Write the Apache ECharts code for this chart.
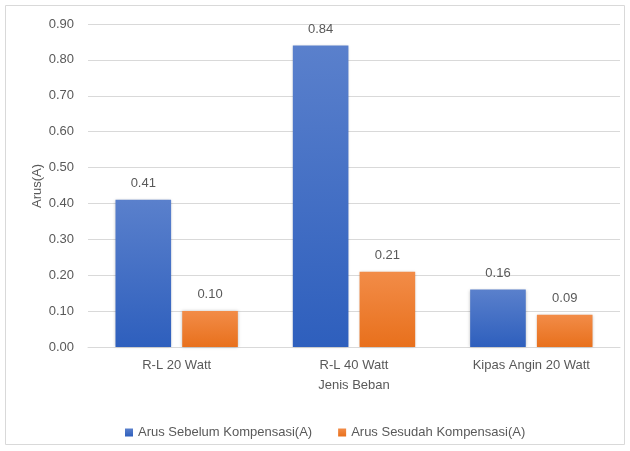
<!DOCTYPE html>
<html>
<head>
<meta charset="UTF-8">
<title>Arus</title>
<script type="text/javascript" src="https://cdn.jsdelivr.net/npm/echarts@6/dist/echarts.min.js"></script>
<style>
  html, body { margin: 0; padding: 0; background: #fff; }
  #chart { width: 630px; height: 451px; }
</style>
</head>
<body>
<div id="chart"></div>
<script type="text/javascript">
  // data
  var categories = ['R-L 20 Watt', 'R-L 40 Watt', 'Kipas Angin 20 Watt'];
  var arusSebelum = [0.41, 0.84, 0.16];
  var arusSesudah = [0.10, 0.21, 0.09];
  var seriesNames = ['Arus Sebelum Kompensasi(A)', 'Arus Sesudah Kompensasi(A)'];
  var yTitle = 'Arus(A)';

  var font = 'Liberation Sans';
  var textColor = '#595959';

  function grad(top, bottom) {
    return new echarts.graphic.LinearGradient(0, 0, 0, 1, [
      { offset: 0, color: top },
      { offset: 1, color: bottom }
    ]);
  }

  var chart = echarts.init(document.getElementById('chart'));
  var option = {
    animation: false,
    textStyle: { fontFamily: font, color: textColor },
    graphic: [{
      type: 'rect',
      shape: { x: 5.5, y: 5.5, width: 619, height: 439 },
      style: { fill: 'none', stroke: '#d9d9d9', lineWidth: 1 },
      silent: true
    }, {
      // y axis title
      type: 'text',
      x: 37,
      y: 186,
      rotation: Math.PI / 2,
      style: {
        text: yTitle,
        fontFamily: font, fontSize: 13, fill: textColor,
        align: 'center', verticalAlign: 'middle'
      },
      silent: true
    }],
    grid: { left: 88, right: 10, top: 24, bottom: 104 },
    legend: {
      data: seriesNames,
      left: 120,
      bottom: 7,
      itemWidth: 8,
      itemHeight: 8,
      itemGap: 26,
      icon: 'rect',
      textStyle: { fontFamily: font, fontSize: 13, color: textColor }
    },
    xAxis: {
      type: 'category',
      data: categories,
      name: 'Jenis Beban',
      nameLocation: 'middle',
      nameGap: 32,
      nameTextStyle: { fontFamily: font, fontSize: 13, color: textColor },
      axisLine: { lineStyle: { color: '#d9d9d9' } },
      axisTick: { show: false },
      axisLabel: { fontFamily: font, fontSize: 13, color: textColor, margin: 12 }
    },
    yAxis: {
      type: 'value',
      min: 0,
      max: 0.9,
      interval: 0.1,
      axisLine: { show: false },
      axisTick: { show: false },
      splitLine: { lineStyle: { color: '#d9d9d9' } },
      axisLabel: {
        fontFamily: font, fontSize: 13, color: textColor, margin: 14,
        formatter: function (v) { return v.toFixed(2); }
      }
    },
    series: [{
      name: seriesNames[0],
      type: 'bar',
      data: arusSebelum,
      barGap: '20%',
      barCategoryGap: '31%',
      itemStyle: { color: grad('#5a80cc', '#2e5fbd'), shadowBlur: 3, shadowColor: 'rgba(0,0,0,0.25)' },
      label: {
        show: true, position: 'top', distance: 10,
        fontFamily: font, fontSize: 13, color: textColor,
        formatter: function (p) { return p.value.toFixed(2); }
      }
    }, {
      name: seriesNames[1],
      type: 'bar',
      data: arusSesudah,
      itemStyle: { color: grad('#f28c48', '#e8701c'), shadowBlur: 3, shadowColor: 'rgba(0,0,0,0.25)' },
      label: {
        show: true, position: 'top', distance: 10,
        fontFamily: font, fontSize: 13, color: textColor,
        formatter: function (p) { return p.value.toFixed(2); }
      }
    }]
  };
  // legend swatch colours without gradient
  option.color = ['#4472c4', '#ed7d31'];
  chart.setOption(option);
</script>
</body>
</html>
